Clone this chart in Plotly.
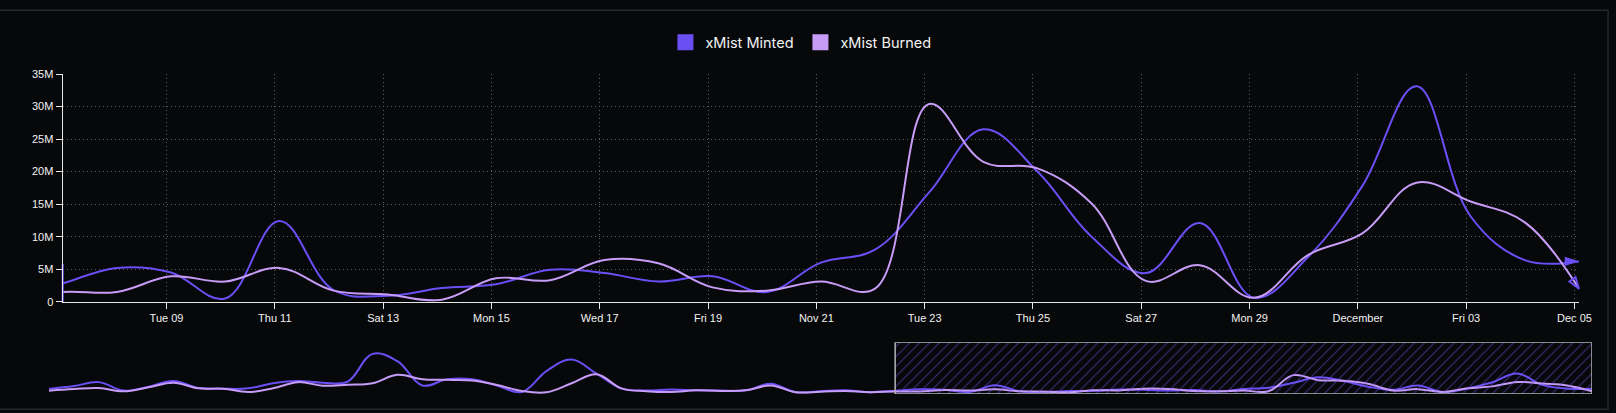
import pandas as pd
import plotly.graph_objects as go

# daily totals (millions), Oct 04 - Dec 05 2021, stamped 02:00 local
days = pd.date_range("2021-10-04 02:00", periods=63, freq="D")

minted_m = [
    5.8, 11, 18, 3, 10, 20, 7.6, 6.4, 7, 16, 20, 17, 19, 68, 55, 12, 23, 23, 12, 0.5,
    38, 58, 33, 7, 3, 5, 3.5, 3, 3.5, 15, 0.3, 2, 3.5, 0.3,
    2.8, 5.2, 4.5, 0.5, 12.4, 1.8, 0.9, 2.1, 2.7, 4.9, 4.4, 3.1, 3.9, 1.5, 6.0,
    8.0, 16.8, 26.5, 20.0, 10.0, 4.4, 12.1, 0.6, 6.9, 17.8, 33.1, 13.1, 6.4, 6.2,
]
burned_m = [
    2.9, 5.8, 7.6, 1.7, 8.8, 17, 7, 6.4, 0.5, 7, 18, 11.7, 13.5, 16, 31, 23, 22, 21, 13, 2.3,
    0.2, 16, 32, 7, 2, 0.5, 3.5, 2.5, 3.5, 12, 0.3, 1, 2.5, 0.2,
    1.5, 1.5, 3.9, 3.1, 5.2, 1.7, 1.1, 0.3, 3.6, 3.3, 6.4, 5.9, 2.2, 1.7, 3.1,
    2.0, 30.4, 21.5, 20.5, 15.1, 3.2, 5.6, 0.6, 7.2, 10.5, 18.3, 15.4, 12.2, 2.0,
]

# brush selection shown in the main chart
view_start = pd.Timestamp("2021-11-07 02:00")
view_end = pd.Timestamp("2021-12-05 02:00")

tick_days = pd.date_range("2021-11-09", "2021-12-05", freq="2D")
tick_labels = ["Tue 09", "Thu 11", "Sat 13", "Mon 15", "Wed 17", "Fri 19", "Nov 21",
               "Tue 23", "Thu 25", "Sat 27", "Mon 29", "December", "Fri 03", "Dec 05"]

MINT = "#6a4ff5"
BURN = "#c69cf7"
BG = "#07080a"

minted = [v * 1e6 for v in minted_m]
burned = [v * 1e6 for v in burned_m]
first = days.get_loc(view_start)

fig = go.Figure()

# main chart
fig.add_trace(go.Scatter(x=days, y=minted, mode="lines", showlegend=False,
                         line=dict(color=MINT, width=2, shape="spline", smoothing=1.1)))
fig.add_trace(go.Scatter(x=days, y=burned, mode="lines", showlegend=False,
                         line=dict(color=BURN, width=2, shape="spline", smoothing=1.1)))

# line end markers (arrow heads on the right, stub on the left)
fig.add_trace(go.Scatter(x=[days[-1]], y=[minted[-1]], mode="markers", showlegend=False,
                         cliponaxis=False, hoverinfo="skip",
                         marker=dict(symbol="arrow", angle=90, size=15, color=MINT)))
fig.add_trace(go.Scatter(x=[days[-1]], y=[burned[-1]], mode="markers", showlegend=False,
                         cliponaxis=False, hoverinfo="skip",
                         marker=dict(symbol="arrow-open", angle=145, size=12, color=MINT,
                                     line=dict(color=MINT, width=2))))
fig.add_trace(go.Scatter(x=[days[first]], y=[minted[first]], mode="markers", showlegend=False,
                         cliponaxis=False, hoverinfo="skip",
                         marker=dict(symbol="line-ns", size=28, color=MINT,
                                     line=dict(color=MINT, width=2))))

# brush overview
fig.add_trace(go.Scatter(x=days, y=minted, mode="lines", showlegend=False, xaxis="x2", yaxis="y2",
                         line=dict(color=MINT, width=2, shape="spline", smoothing=1.1)))
fig.add_trace(go.Scatter(x=days, y=burned, mode="lines", showlegend=False, xaxis="x2", yaxis="y2",
                         line=dict(color=BURN, width=2, shape="spline", smoothing=1.1)))

mini_range = [-3e6, 88.5e6]
fig.add_trace(go.Scatter(
    x=[view_start, view_end, view_end, view_start, view_start],
    y=[mini_range[0], mini_range[0], mini_range[1], mini_range[1], mini_range[0]],
    mode="lines", fill="toself", showlegend=False, hoverinfo="skip",
    xaxis="x2", yaxis="y2",
    line=dict(color="#b4b4b8", width=1.5),
    fillcolor="rgba(0,0,0,0)",
    fillpattern=dict(shape="/", fgcolor="#7455f0", bgcolor="rgba(0,0,0,0)",
                     size=7, solidity=0.15),
))

# legend entries with square swatches
for name, col in [("xMist Minted", MINT), ("xMist Burned", BURN)]:
    fig.add_trace(go.Scatter(x=[None], y=[None], mode="markers", name=name,
                             marker=dict(symbol="square", size=16, color=col)))

axis_col = "#e8e8e8"
grid_col = "#5a5a5f"

fig.update_layout(
    width=1616, height=413,
    margin=dict(l=49, r=24, t=74, b=19),
    paper_bgcolor=BG, plot_bgcolor=BG,
    font=dict(family="Liberation Sans, Arial, sans-serif", color="#f2f2f2", size=11),
    legend=dict(orientation="h", x=0.3995, xanchor="left", y=1.099, yanchor="middle",
                entrywidth=90, entrywidthmode="pixels",
                font=dict(family="Inter, sans-serif", size=14.5, color="#f2f2f2"),
                bgcolor="rgba(0,0,0,0)", itemclick=False),
    xaxis=dict(domain=[0.00888, 0.99157], range=[view_start, view_end],
               showline=True, linecolor=axis_col, linewidth=1.2,
               ticks="outside", ticklen=6, tickcolor=axis_col,
               tickvals=tick_days, ticktext=tick_labels,
               showgrid=True, gridcolor=grid_col, griddash="1px,3px", gridwidth=1,
               zeroline=False, fixedrange=True),
    yaxis=dict(domain=[0.2884, 1], range=[0, 35e6], dtick=5e6, tickformat="~s",
               showline=True, linecolor=axis_col, linewidth=1.2,
               ticks="outside", ticklen=6, tickcolor=axis_col,
               showgrid=True, gridcolor=grid_col, griddash="1px,3px", gridwidth=1,
               zeroline=False, fixedrange=True),
    xaxis2=dict(domain=[0, 1], anchor="y2", range=[days[0], view_end], visible=False),
    yaxis2=dict(domain=[0, 0.1616], anchor="x2", range=mini_range, visible=False),
    shapes=[dict(type="rect", xref="paper", yref="paper",
                 x0=-0.06, x1=1.0104, y0=-0.0478, y1=1.199,
                 line=dict(color="#26272a", width=1.5), layer="below")],
)

# page has no body margin so the figure sits flush in the window
fig.write_html("out.html", config={"displayModeBar": False}, post_script=(
    "document.body.style.margin='0';"
    "document.body.style.background='#07080a';"
))
